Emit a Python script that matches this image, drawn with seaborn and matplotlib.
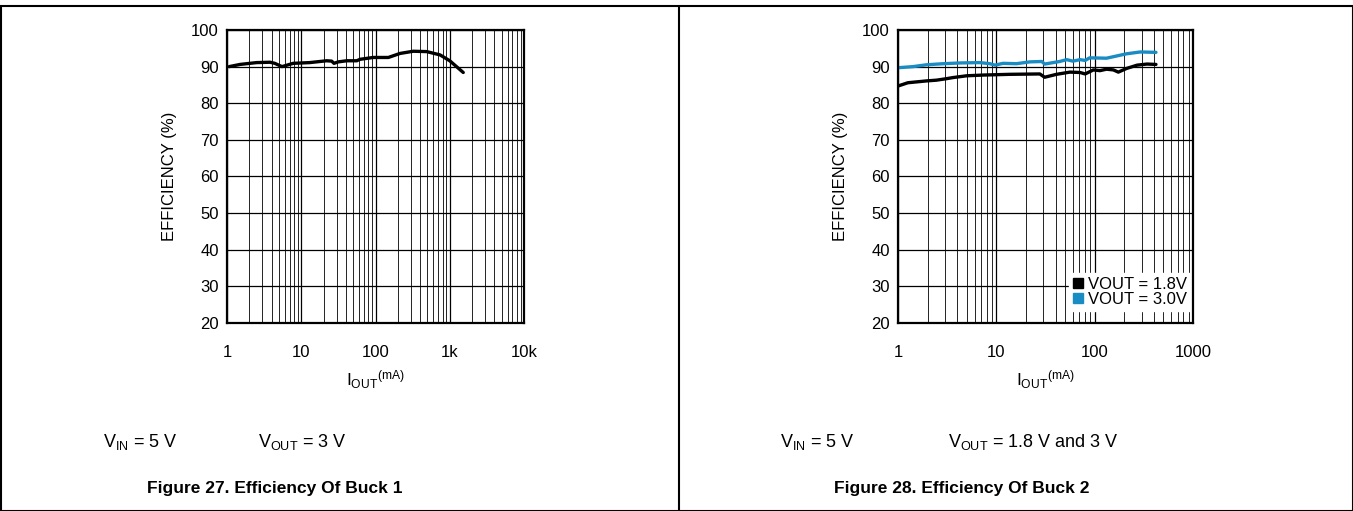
import numpy as np
import pandas as pd
import matplotlib
matplotlib.use('Agg')
import matplotlib.pyplot as plt
from matplotlib.lines import Line2D
from matplotlib.ticker import FixedLocator, NullFormatter
import seaborn as sns

# Buck 1 (VOUT = 3 V)
buck1_iout = [1.07, 1.5, 2.5, 3.8, 4.4, 5.5, 7.8, 13, 22, 25.7, 27.6, 31.6, 41, 56, 62,
              93, 149, 214, 323, 490, 740, 1000, 1520]
buck1_eff = [90.0, 90.6, 91.1, 91.2, 90.9, 90.0, 90.9, 91.1, 91.6, 91.5, 90.9, 91.3, 91.6,
             91.6, 92.0, 92.5, 92.5, 93.6, 94.2, 94.1, 93.2, 91.6, 88.4]

# Buck 2, VOUT = 3.0 V
buck2_30_iout = [1.0, 1.42, 1.95, 2.9, 4.25, 6.8, 8.6, 9.7, 11.7, 16, 22, 29, 31, 44, 52,
                 60, 71, 80, 89, 132, 211, 290, 420]
buck2_30_eff = [89.7, 90.0, 90.5, 90.8, 91.0, 91.1, 90.8, 90.4, 90.9, 90.8, 91.3, 91.4, 90.7,
                91.4, 91.9, 91.5, 91.9, 91.7, 92.4, 92.3, 93.5, 94.0, 93.9]

# Buck 2, VOUT = 1.8 V
buck2_18_iout = [1.0, 1.26, 1.95, 2.46, 3.1, 3.6, 5.0, 7.4, 13.8, 27.7, 31, 41, 56, 71, 80,
                 97, 113, 132, 155, 174, 211, 270, 340, 420]
buck2_18_eff = [84.7, 85.6, 86.1, 86.3, 86.7, 87.0, 87.5, 87.7, 87.9, 88.0, 87.1, 87.9, 88.5,
                88.4, 88.0, 89.1, 88.9, 89.3, 89.1, 88.5, 89.5, 90.4, 90.7, 90.6]

y_ticks = [20, 30, 40, 50, 60, 70, 80, 90, 100]
x_ticks_1 = [1, 10, 100, 1000, 10000]
x_labels_1 = ['1', '10', '100', '1k', '10k']
x_ticks_2 = [1, 10, 100, 1000]
x_labels_2 = ['1', '10', '100', '1000']
legend_labels = ['VOUT = 1.8V', 'VOUT = 3.0V']
blue = '#1a8cc4'

sns.set_style('white')
plt.rcParams['font.family'] = ['Liberation Sans', 'DejaVu Sans']
plt.rcParams['mathtext.fontset'] = 'custom'
plt.rcParams['mathtext.rm'] = 'Liberation Sans'
plt.rcParams['mathtext.it'] = 'Liberation Sans'
for k in ['text.color', 'axes.labelcolor', 'xtick.color', 'ytick.color']:
    plt.rcParams[k] = 'black'
narrow = ['Liberation Sans Narrow', 'Liberation Sans', 'DejaVu Sans']

fig = plt.figure(figsize=(13.53, 5.11), dpi=100)
ax1 = fig.add_axes([227 / 1353, 1 - 323 / 511, 297 / 1353, 293 / 511])
ax2 = fig.add_axes([898 / 1353, 1 - 323 / 511, 295 / 1353, 293 / 511])

df1 = pd.DataFrame({'iout': buck1_iout, 'eff': buck1_eff})
sns.lineplot(data=df1, x='iout', y='eff', ax=ax1, color='black', linewidth=2.4)

df2a = pd.DataFrame({'iout': buck2_18_iout, 'eff': buck2_18_eff})
df2b = pd.DataFrame({'iout': buck2_30_iout, 'eff': buck2_30_eff})
sns.lineplot(data=df2a, x='iout', y='eff', ax=ax2, color='black', linewidth=2.4)
sns.lineplot(data=df2b, x='iout', y='eff', ax=ax2, color=blue, linewidth=2.4)


def style_axes(ax, xticks, xlabels):
    ax.set_xscale('log')
    ax.set_xlim(xticks[0], xticks[-1])
    ax.set_ylim(20, 100)
    ax.set_xticks(xticks)
    ax.set_xticklabels(xlabels)
    minors = [m * 10 ** d for d in range(len(xticks) - 1) for m in range(2, 10)]
    ax.xaxis.set_minor_locator(FixedLocator(minors))
    ax.xaxis.set_minor_formatter(NullFormatter())
    ax.set_yticks(y_ticks)
    ax.grid(True, which='major', color='black', linewidth=0.9)
    ax.grid(True, which='minor', axis='x', color='black', linewidth=0.6)
    ax.tick_params(axis='both', which='both', length=0, labelsize=12)
    ax.tick_params(axis='x', pad=16)
    ax.tick_params(axis='y', pad=6)
    for s in ax.spines.values():
        s.set_visible(True)
        s.set_color('black')
        s.set_linewidth(1.6)
        s.set_zorder(6)
    ax.set_ylabel('EFFICIENCY (%)', fontsize=12, labelpad=10)
    ax.set_xlabel(r'$\mathregular{I_{OUT}{}^{(mA)}}$', fontsize=12.5, labelpad=6)
    ax.set_axisbelow(True)


style_axes(ax1, x_ticks_1, x_labels_1)
style_axes(ax2, x_ticks_2, x_labels_2)

handles = [Line2D([], [], marker='s', linestyle='none', color=c, markersize=6.5)
           for c in ['black', blue]]
leg = ax2.legend(handles, legend_labels, loc='lower right', bbox_to_anchor=(0.995, 0.04),
                 fontsize=12, handlelength=0.6, handletextpad=0.3, borderpad=0.25,
                 labelspacing=0.0, borderaxespad=0.0, frameon=True, fancybox=False)
leg.get_frame().set_facecolor('white')
leg.get_frame().set_edgecolor('white')
leg.get_frame().set_alpha(1)

# conditions and captions
fig.text(103 / 1353, 1 - 442 / 511, r'$\mathregular{V_{IN}}$ = 5 V', fontsize=13,
         family=narrow, va='center')
fig.text(258 / 1353, 1 - 442 / 511, r'$\mathregular{V_{OUT}}$ = 3 V', fontsize=13,
         family=narrow, va='center')
fig.text(275 / 1353, 1 - 488 / 511, 'Figure 27. Efficiency Of Buck 1', fontsize=12.5,
         family=narrow, weight='bold', ha='center', va='center')
fig.text(780 / 1353, 1 - 442 / 511, r'$\mathregular{V_{IN}}$ = 5 V', fontsize=13,
         family=narrow, va='center')
fig.text(948 / 1353, 1 - 442 / 511, r'$\mathregular{V_{OUT}}$ = 1.8 V and 3 V', fontsize=13,
         family=narrow, va='center')
fig.text(962 / 1353, 1 - 488 / 511, 'Figure 28. Efficiency Of Buck 2', fontsize=12.5,
         family=narrow, weight='bold', ha='center', va='center')

# outer frame and divider
top = 1 - 6 / 511
for xs, ys in [([0.5 / 1353, 0.5 / 1353], [0, top]),
               ([1352.5 / 1353, 1352.5 / 1353], [0, top]),
               ([0, 1], [top, top]),
               ([0, 1], [0.5 / 511, 0.5 / 511]),
               ([679 / 1353, 679 / 1353], [0, top])]:
    fig.add_artist(Line2D(xs, ys, color='black', linewidth=1.5, transform=fig.transFigure))

fig.savefig('out.png', dpi=100)
plt.close()
